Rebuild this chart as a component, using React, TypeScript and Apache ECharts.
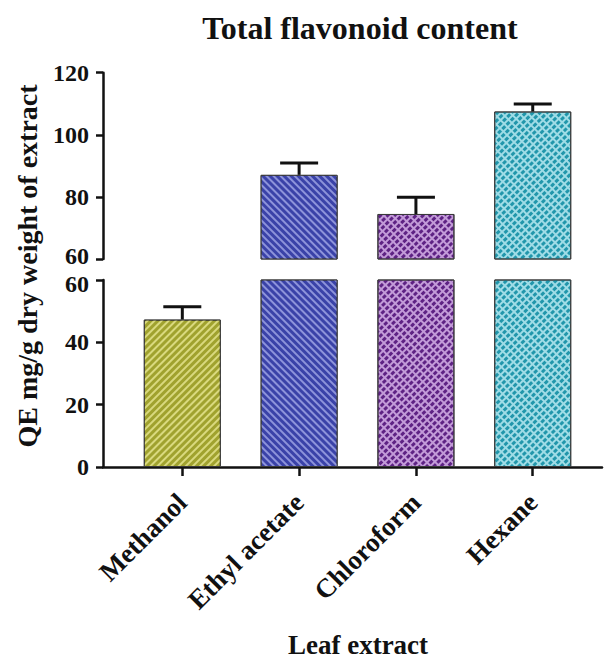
import React, { useEffect, useRef } from "react";
import * as echarts from "echarts";

const categories = ["Methanol", "Ethyl acetate", "Chloroform", "Hexane"];
const means = [47.3, 87.1, 74.5, 107.5];
const errors = [4.1, 3.8, 5.4, 2.4];
const lowerTicks = [0, 20, 40, 60];
const upperTicks = [60, 80, 100, 120];
const baseColors = ["#a0a22e", "#3a42a8", "#c29ad8", "#9fdce6"];
const patternColors = ["#d9d97e", "#8d93da", "#5e2284", "#2196ab"];

const FONT = "'Liberation Serif', 'DejaVu Serif', serif";
const BREAK = 60;

function decalFor(i: number) {
  if (i === 0) {
    return { color: patternColors[0], symbol: "rect", symbolSize: 1, dashArrayX: [1, 0], dashArrayY: [2, 3], rotation: -Math.PI / 4 };
  }
  if (i === 1) {
    return { color: patternColors[1], symbol: "rect", symbolSize: 1, dashArrayX: [1, 0], dashArrayY: [2, 3], rotation: Math.PI / 4 };
  }
  return { color: patternColors[i], symbol: "rect", symbolSize: 1, dashArrayX: [4, 2], dashArrayY: [3, 2], rotation: -Math.PI / 4 };
}

function itemStyleFor(i: number) {
  return { color: baseColors[i], borderColor: "#3a3a3a", borderWidth: 1, decal: decalFor(i) };
}

function errorRender(params: any, api: any) {
  const x = api.value(0);
  const v = api.value(1);
  const e = api.value(2);
  const p0 = api.coord([x, v]);
  const p1 = api.coord([x, v + e]);
  const hw = 19;
  const style = { stroke: "#111", lineWidth: 3 };
  return {
    type: "group",
    children: [
      { type: "line", shape: { x1: p0[0], y1: p0[1], x2: p1[0], y2: p1[1] }, style },
      { type: "line", shape: { x1: p1[0] - hw, y1: p1[1], x2: p1[0] + hw, y2: p1[1] }, style },
    ],
  };
}

export default function App() {
  const ref = useRef<HTMLDivElement>(null);
  useEffect(() => {
    if (!ref.current) return;
    const chart = echarts.init(ref.current, undefined, { renderer: "svg" });
    const idx = categories.map((_, i) => i);
    const upperIdx = idx.filter((i) => means[i] > BREAK);
    const lowerErrIdx = idx.filter((i) => means[i] <= BREAK);

    const xMin = -0.679;
    const xMax = 3.593;
    const axisLineStyle = { color: "#111", width: 2.5 };
    const labelFont = { fontFamily: FONT, fontWeight: "bold", fontSize: 24, color: "#111" };
    const yAxisCommon = {
      type: "value",
      interval: 20,
      axisLine: { show: true, onZero: false, lineStyle: axisLineStyle },
      axisTick: { show: true, inside: false, length: 7, lineStyle: axisLineStyle },
      splitLine: { show: false },
    };

    chart.setOption({
      animation: false,
      backgroundColor: "#fff",
      title: {
        text: "Total flavonoid content",
        left: 355,
        top: 7,
        textAlign: "center",
        textStyle: { fontFamily: FONT, fontWeight: "bold", fontSize: 32, color: "#111" },
      },
      grid: [
        { left: 103, right: 3, top: 72.7, height: 186.3, outerBoundsMode: "none" },
        { left: 103, right: 3, top: 280, height: 187, outerBoundsMode: "none" },
      ],
      xAxis: [
        { type: "value", gridIndex: 0, min: xMin, max: xMax, show: false },
        {
          type: "value",
          gridIndex: 1,
          min: xMin,
          max: xMax,
          axisLine: { show: true, onZero: false, lineStyle: axisLineStyle },
          axisTick: { show: true, length: 9, lineStyle: axisLineStyle, customValues: idx },
          axisLabel: {
            customValues: idx,
            formatter: (v: number) => categories[Math.round(v)] ?? "",
            rotate: 45,
            margin: 31,
            fontFamily: FONT,
            fontWeight: "bold",
            fontSize: 27,
            color: "#111",
          },
          splitLine: { show: false },
        },
      ],
      yAxis: [
        {
          ...yAxisCommon,
          gridIndex: 0,
          min: upperTicks[0],
          max: upperTicks[upperTicks.length - 1],
          axisLabel: {
            ...labelFont,
            margin: 14,
            formatter: (v: number) => (v === BREAK ? `{e|${v}}` : `${v}`),
            rich: { e: { ...labelFont, padding: [0, 0, 7, 0] } },
          },
        },
        {
          ...yAxisCommon,
          gridIndex: 1,
          min: lowerTicks[0],
          max: lowerTicks[lowerTicks.length - 1],
          axisLabel: {
            ...labelFont,
            margin: 14,
            formatter: (v: number) => (v === BREAK ? `{e|${v}}` : `${v}`),
            rich: { e: { ...labelFont, padding: [7, 0, 0, 0] } },
          },
        },
      ],
      series: [
        {
          type: "bar",
          xAxisIndex: 0,
          yAxisIndex: 0,
          barWidth: 77,
          clip: true,
          data: upperIdx.map((i) => ({ value: [i, means[i]], itemStyle: itemStyleFor(i) })),
        },
        {
          type: "bar",
          xAxisIndex: 1,
          yAxisIndex: 1,
          barWidth: 77,
          clip: true,
          data: idx.map((i) => ({ value: [i, means[i]], itemStyle: itemStyleFor(i) })),
        },
        {
          type: "custom",
          xAxisIndex: 0,
          yAxisIndex: 0,
          renderItem: errorRender,
          encode: { x: 0, y: 1 },
          data: upperIdx.map((i) => [i, means[i], errors[i]]),
          z: 5,
        },
        {
          type: "custom",
          xAxisIndex: 1,
          yAxisIndex: 1,
          renderItem: errorRender,
          encode: { x: 0, y: 1 },
          data: lowerErrIdx.map((i) => [i, means[i], errors[i]]),
          z: 5,
        },
      ],
      graphic: [
        {
          type: "text",
          x: 27,
          y: 266,
          rotation: Math.PI / 2,
          style: {
            text: "QE mg/g dry weight of extract",
            fontFamily: FONT,
            fontWeight: "bold",
            fontSize: 28,
            fill: "#111",
            textAlign: "center",
            textVerticalAlign: "middle",
          },
        },
        {
          type: "text",
          x: 358,
          y: 645,
          style: {
            text: "Leaf extract",
            fontFamily: FONT,
            fontWeight: "bold",
            fontSize: 27,
            fill: "#111",
            textAlign: "center",
            textVerticalAlign: "middle",
          },
        },
      ],
    });
    return () => chart.dispose();
  }, []);
  return <div ref={ref} style={{ position: "fixed", left: 0, top: 0, width: 605, height: 659 }} />;
}
